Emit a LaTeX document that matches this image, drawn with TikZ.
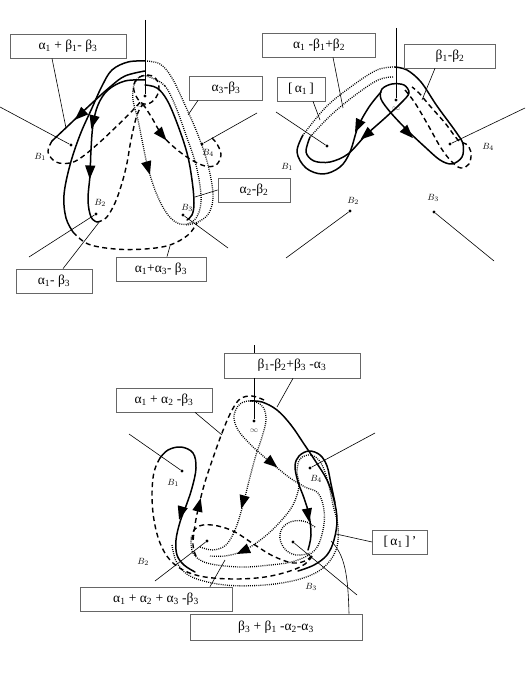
\documentclass[tikz,border=0pt]{standalone}
\usepackage{fontspec}
\setmainfont{Liberation Serif}
\usetikzlibrary{arrows.meta, positioning}
\tikzset{
  lbl/.style={rectangle, draw=black!60, fill=white, line width=0.7pt, minimum height=24pt, inner sep=1pt, font=\fontsize{13.5}{15}\selectfont},
  pnt/.style={circle, fill=black, inner sep=0pt, minimum size=3.4pt},
  ptname/.style={inner sep=0pt, font=\fontsize{9.5}{10}\selectfont},
  inflbl/.style={inner sep=0pt, font=\fontsize{8}{8}\selectfont, text=black!70},
  ray/.style={line width=0.6pt},
  solidp/.style={line width=1.5pt, line join=round, line cap=round},
  dashp/.style={line width=1.4pt, dash pattern=on 5pt off 3.5pt},
  dotp/.style={line width=1.3pt, dash pattern=on 0.9pt off 1.2pt},
}
\newcommand{\sx}[1]{\textsubscript{#1}}
\newcommand{\tri}[2]{\fill[shift={#1}, rotate=#2] (7,0) -- (-6.5,5.2) -- (-6.5,-5.2) -- cycle;}

\begin{document}
\begin{tikzpicture}[x=1pt, y=-1pt]
  \useasboundingbox (0,0) rectangle (525,700);

  %%% top left
  \node[pnt] (infA) at (145,96) {};
  \node[inflbl] (infAl) at (142,106) {$\infty$};
  \node[pnt] (aB1) at (71,145) {};
  \node[pnt] (aB2) at (96,214) {};
  \node[pnt] (aB3) at (183,215) {};
  \node[pnt] (aB4) at (202,144) {};
  \node[ptname] (aB1l) at (40,157) {$B_1$};
  \node[ptname] (aB2l) at (100,203) {$B_2$};
  \node[ptname] (aB3l) at (187,208) {$B_3$};
  \node[ptname] (aB4l) at (208,153) {$B_4$};

  \coordinate (aTop) at (145,20);
  \coordinate (aR1) at (0,107);
  \coordinate (aR2) at (29,257);
  \coordinate (aR3) at (228,248);
  \coordinate (aR4) at (257,113);
  \draw[ray] (aTop) -- (infA);
  \draw[ray] (aR1) -- (aB1);
  \draw[ray] (aB2) -- (aR2);
  \draw[ray] (aB3) -- (aR3);
  \draw[ray] (aB4) -- (aR4);

  % loops
  \draw[solidp] plot[smooth, tension=0.6] coordinates {(145,61) (128,62) (112,70) (102,86) (92,108) (80,135) (70,165) (64,195) (66,218) (73,232)};
  \draw[dashp] plot[smooth, tension=0.6] coordinates {(73,232) (88,244) (115,249) (145,249) (170,245) (188,235) (197,223)};
  \draw[solidp] plot[smooth, tension=0.6] coordinates {(145,71) (125,76) (110,87) (90,105) (70,124) (52,141)};
  \draw[solidp] plot[smooth, tension=0.6] coordinates {(145,80) (125,81) (108,90) (98,105) (93,125) (91,150) (90,175) (88,200) (91,217) (97,222)};
  \draw[solidp] plot[smooth, tension=0.6] coordinates {(145,85) (157,88) (167,100) (177,123) (187,153) (192,180) (194,203) (192,215) (187,220)};
  \draw[dashp] plot[smooth, tension=0.6] coordinates {(52,141) (48,152) (56,162) (70,163) (82,157) (100,142) (118,125) (133,110) (142,100)};
  \draw[dashp] plot[smooth cycle, tension=0.7] coordinates {(136,96) (134,84) (142,76) (154,77) (159,88) (154,100) (144,104)};
  \draw[dashp] plot[smooth, tension=0.6] coordinates {(97,222) (106,218) (115,203) (122,183) (127,163) (131,140) (137,115) (143,104)};
  \draw[dashp] plot[smooth, tension=0.6] coordinates {(143,104) (152,118) (162,135) (175,148) (190,159) (205,166) (216,165) (221,155) (217,144) (210,136)};
  \draw[dotp] plot[smooth, tension=0.6] coordinates {(145,61) (160,64) (172,78) (185,105) (198,135) (208,165) (213,195) (209,213) (198,222) (186,225)};
  \draw[dotp] plot[smooth cycle, tension=0.6] coordinates {(152,78) (165,86) (175,105) (186,135) (196,165) (201,195) (199,212) (192,222) (180,224) (168,215) (157,195) (148,168) (143,145) (138,120) (133,100) (134,85) (141,76)};
  \tri{(80,115)}{223}
  \tri{(93,122)}{256}
  \tri{(90,172)}{268}
  \tri{(162,135)}{310}
  \tri{(148,168)}{286}

  % labels
  \node[lbl, minimum width=116pt] (aL1) at (68,46) {α\sx{1} + β\sx{1}- β\sx{3}};
  \node[lbl, minimum width=73pt] (aL2) at (226,88) {α\sx{3}-β\sx{3}};
  \node[lbl, minimum width=72pt] (aL3) at (254,190) {α\sx{2}-β\sx{2}};
  \node[lbl, minimum width=90pt] (aL4) at (161,269) {α\sx{1}+α\sx{3}- β\sx{3}};
  \node[lbl, minimum width=76pt] (aL5) at (54,281) {α\sx{1}- β\sx{3}};
  \coordinate (aE1) at (66,128);
  \coordinate (aE2) at (188,115);
  \coordinate (aE3) at (195,197);
  \coordinate (aE4) at (170,246);
  \coordinate (aE5) at (100,221);
  \draw[ray] ([xshift=-16pt]aL1.south) -- (aE1);
  \draw[ray] ([xshift=-28pt]aL2.south) -- (aE2);
  \draw[ray] (aL3.west) -- (aE3);
  \draw[ray] ([xshift=6pt]aL4.north) -- (aE4);
  \draw[ray] ([xshift=9pt]aL5.north) -- (aE5);

  %%% top right
  \node[pnt] (infB) at (396,100) {};
  \node[inflbl] (infBl) at (396,109) {$\infty$};
  \node[pnt] (bB1) at (327,146) {};
  \node[pnt] (bB2) at (350,211) {};
  \node[pnt] (bB3) at (434,212) {};
  \node[pnt] (bB4) at (450,144) {};
  \node[ptname] (bB1l) at (287,167) {$B_1$};
  \node[ptname] (bB2l) at (353,201) {$B_2$};
  \node[ptname] (bB3l) at (433,198) {$B_3$};
  \node[ptname] (bB4l) at (488,147) {$B_4$};

  \coordinate (bTop) at (396,28);
  \coordinate (bR1) at (276,112);
  \coordinate (bR2) at (286,258);
  \coordinate (bR3) at (494,261);
  \coordinate (bR4) at (525,108);
  \draw[ray] (bTop) -- (infB);
  \draw[ray] (bR1) -- (bB1);
  \draw[ray] (bB2) -- (bR2);
  \draw[ray] (bB3) -- (bR3);
  \draw[ray] (bB4) -- (bR4);

  % loops
  \draw[dotp] plot[smooth, tension=0.6] coordinates {(395,67) (377,70) (352,86) (326,107) (303,135)};
  \draw[dotp] plot[smooth, tension=0.6] coordinates {(393,77) (378,80) (354,96) (330,116) (310,137)};
  \draw[solidp] plot[smooth, tension=0.55] coordinates {(310,137) (306,152) (314,161) (330,162) (348,154) (366,135) (385,118) (401,103) (409,93) (404,85) (392,84) (382,89) (381,99) (391,113) (408,131) (425,147) (440,160) (452,164) (462,157) (463,144) (456,132) (437,106) (421,82) (407,70) (395,67)};
  \draw[solidp] plot[smooth, tension=0.6] coordinates {(303,135) (297,152) (306,168) (323,174) (340,167) (350,152) (358,127) (369,107) (381,92)};
  \draw[dashp] plot[smooth, tension=0.6] coordinates {(405,90) (415,103) (428,125) (441,148) (452,162) (461,168) (469,164) (471,152) (466,144) (458,140) (445,123) (430,106) (419,93) (412,87)};
  \tri{(358,126)}{245}
  \tri{(366,135)}{220}
  \tri{(408,133)}{314}

  % labels
  \node[lbl, minimum width=113pt] (bL1) at (319,45) {α\sx{1} -β\sx{1}+β\sx{2}};
  \node[lbl, minimum width=91pt] (bL2) at (450,56) {β\sx{1}-β\sx{2}};
  \node[lbl, minimum width=48pt] (bL3) at (301,89) {[\,α\sx{1}\,]};
  \coordinate (bE1) at (343,108);
  \coordinate (bE2) at (422,100);
  \coordinate (bE3) at (320,120);
  \draw[ray] ([xshift=14pt]bL1.south) -- (bE1);
  \draw[ray] ([xshift=-15pt]bL2.south) -- (bE2);
  \draw[ray] ([xshift=12pt]bL3.south) -- (bE3);

  %%% bottom
  \node[pnt] (infC) at (254,421) {};
  \node[inflbl] (infCl) at (254,431) {$\infty$};
  \node[pnt] (cB1) at (182,471) {};
  \node[pnt] (cB2) at (207,541) {};
  \node[pnt] (cB3) at (293,542) {};
  \node[pnt] (cB4) at (310,468) {};
  \node[ptname] (cB1l) at (173,483) {$B_1$};
  \node[ptname] (cB2l) at (143,562) {$B_2$};
  \node[ptname] (cB3l) at (311,587) {$B_3$};
  \node[ptname] (cB4l) at (316,479) {$B_4$};

  \coordinate (cTop) at (254,345);
  \coordinate (cR1) at (129,434);
  \coordinate (cR2) at (155,581);
  \coordinate (cR3) at (357,595);
  \coordinate (cR4) at (375,433);
  \draw[ray] (cR1) -- (cB1);
  \draw[ray] (cB2) -- (cR2);
  \draw[ray] (cB3) -- (cR3);
  \draw[ray] (cB4) -- (cR4);

  % loops
  \draw[solidp] plot[smooth, tension=0.6] coordinates {(160,458) (168,450) (181,447) (193,453) (196,468) (192,488) (186,506) (180,522) (176,540) (177,555) (184,565) (195,572)};
  \draw[dashp] plot[smooth, tension=0.6] coordinates {(160,458) (154,472) (152,495) (154,520) (160,543) (170,560) (185,571) (205,577) (235,579) (265,577) (290,571) (305,564) (313,555)};
  \draw[dashp] plot[smooth, tension=0.6] coordinates {(264,400) (252,396) (240,399) (231,412) (222,433) (213,458) (205,482) (199,505) (195,525) (193,545) (196,556)};
  \draw[dashp] plot[smooth, tension=0.6] coordinates {(192,540) (194,530) (203,525) (218,526) (235,532) (255,545) (273,556) (293,563) (307,560) (313,553)};
  \draw[dotp] plot[smooth, tension=0.6] coordinates {(200,547) (213,550) (226,545) (235,530) (241,512) (245,497) (250,477) (256,455) (262,437) (266,420) (263,407) (252,401) (240,404) (234,416) (238,430) (250,444) (262,455) (275,466) (290,478) (305,487) (318,493) (324,510) (323,530) (315,550) (295,561) (270,565) (240,567) (207,563) (193,553) (191,537)};
  \draw[dotp] plot[smooth, tension=0.6] coordinates {(172,545) (177,563) (192,577) (225,585) (265,585) (300,579) (323,568) (336,550) (338,527) (333,505) (328,482) (321,463) (311,455) (300,459) (297,472) (299,486) (293,505) (280,522) (263,538) (243,551) (225,556) (210,556)};
  \draw[dotp] plot[smooth, tension=0.7] coordinates {(315,527) (303,521) (288,523) (280,534) (284,548) (296,555) (310,553)};
  \draw[solidp] plot[smooth, tension=0.6] coordinates {(250,401) (262,402) (277,410) (291,425) (304,444) (316,462) (327,480) (334,500) (337,520) (334,540) (327,555) (314,565) (298,571)};
  \draw[solidp] plot[smooth, tension=0.6] coordinates {(308,550) (311,535) (309,515) (304,498) (298,482) (295,466) (299,456) (309,451) (320,455) (327,466) (331,484) (335,503)};
  \tri{(181,513)}{254}
  \tri{(199,505)}{76}
  \tri{(243,502)}{255}
  \tri{(272,463)}{320}
  \tri{(243,551)}{205}
  \tri{(308,515)}{280}

  % labels
  \node[lbl, minimum width=136pt, minimum height=25pt] (cL1) at (292,365.5) {β\sx{1}-β\sx{2}+β\sx{3} -α\sx{3}};
  \node[lbl, minimum width=96pt] (cL2) at (164,400) {α\sx{1} + α\sx{2} -β\sx{3}};
  \node[lbl, minimum width=55pt] (cL3) at (400,542) {[\,α\sx{1}\,]\,’};
  \node[lbl, minimum width=152pt] (cL4) at (156,599) {α\sx{1} + α\sx{2} + α\sx{3} -β\sx{3}};
  \node[lbl, minimum width=172pt, minimum height=26pt] (cL5) at (276,627) {β\sx{3} + β\sx{1} -α\sx{2}-α\sx{3}};
  \draw[ray] (cTop) -- (cL1.north -| infC);
  \draw[ray] (cL1.south -| infC) -- (infC);
  \coordinate (cE1) at (277,407);
  \coordinate (cE2) at (222,435);
  \coordinate (cE3) at (336,534);
  \coordinate (cE4) at (225,560);
  \coordinate (cE5) at (331,541);
  \draw[ray] ([xshift=1pt]cL1.south) -- (cE1);
  \draw[ray] ([xshift=31pt]cL2.south) -- (cE2);
  \draw[ray] (cL3.west) -- (cE3);
  \draw[ray] ([xshift=54pt]cL4.north) -- (cE4);
  \draw[ray] ([xshift=73pt]cL5.north) .. controls (348,575) and (345,555) .. (cE5);
\end{tikzpicture}
\end{document}
